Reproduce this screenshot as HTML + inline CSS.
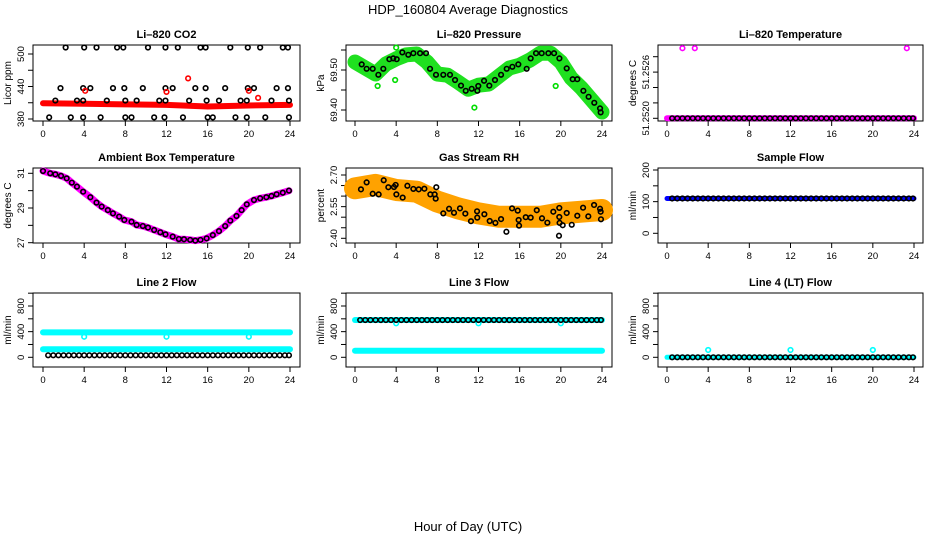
<!DOCTYPE html>
<html><head><meta charset="utf-8"><style>
html,body{margin:0;padding:0;background:#fff;}
svg{display:block;font-family:"Liberation Sans",sans-serif;}
</style></head><body>
<svg id="chart" width="936" height="540" viewBox="0 0 936 540" xmlns="http://www.w3.org/2000/svg">
<text x="468" y="14" text-anchor="middle" font-size="13">HDP_160804  Average Diagnostics</text>
<text x="468" y="531" text-anchor="middle" font-size="13">Hour of Day (UTC)</text>
</svg>
<script>
// ---------- data ----------
const xTicks = [0,4,8,12,16,20,24];
const halfHours = [0.5,1,1.5,2,2.5,3,3.5,4,4.5,5,5.5,6,6.5,7,7.5,8,8.5,9,9.5,10,10.5,11,11.5,12,12.5,13,13.5,14,14.5,15,15.5,16,16.5,17,17.5,18,18.5,19,19.5,20,20.5,21,21.5,22,22.5,23,23.5,23.9];

// CO2
const co2BandH = [0,4,8,12,16,20,24];
const co2BandV = [409,408,407,406,403,405,406];
const co2TopH = [2.2,4.0,5.2,7.2,7.8,10.2,11.9,13.1,15.3,15.8,18.2,19.9,21.1,23.3,23.8];
const co2TopV = 512;
const co2MidH = [1.7,3.9,4.6,6.8,7.9,9.7,11.9,12.6,14.8,15.8,17.7,19.9,20.5,22.7,23.8];
const co2MidV = 437;
const co2LowH = [1.2,3.3,3.9,6.2,8.0,9.1,11.3,11.9,14.2,15.9,17.1,19.2,19.8,22.2,23.9];
const co2LowV = 414;
const co2BotH = [0.6,2.7,3.9,5.6,8.0,8.6,10.8,11.8,13.6,16.0,16.5,18.7,19.8,21.6,23.9];
const co2BotV = 383;
const co2RedH = [4.1,12.0,14.1,20.0,20.9];
const co2RedV = [432,430,455,432,419];

// Pressure
const presBandH = [0,1,2,3,4,5,6,7,8,9,10,11,12,13,14,15,16,17,18,19,20,21,22,23,24];
const presBandV = [69.52,69.505,69.49,69.515,69.528,69.538,69.54,69.52,69.49,69.487,69.47,69.452,69.462,69.465,69.485,69.505,69.512,69.525,69.542,69.542,69.52,69.48,69.455,69.425,69.395];
const presAvgH = [0.65,1.13,1.72,2.27,2.75,3.34,3.72,4.05,4.6,5.18,5.67,6.32,6.9,7.29,7.87,8.58,9.23,9.72,10.3,10.76,11.34,11.89,11.98,12.54,13.05,13.6,14.19,14.74,15.29,15.87,16.68,17.07,17.59,18.14,18.79,19.34,19.86,20.57,21.15,21.6,22.19,22.7,23.25,23.81,23.87];
const presAvgV = [69.514,69.503,69.503,69.488,69.503,69.527,69.529,69.527,69.544,69.538,69.542,69.542,69.542,69.503,69.488,69.488,69.488,69.475,69.461,69.448,69.453,69.448,69.46,69.473,69.461,69.475,69.488,69.503,69.508,69.514,69.503,69.529,69.542,69.542,69.542,69.542,69.529,69.504,69.477,69.477,69.448,69.433,69.418,69.404,69.394];
const presOutH = [3.9,4.0,11.6,19.5,2.2];
const presOutV = [69.475,69.556,69.406,69.46,69.46];

// Li-820 temperature
const tempBaseV = 51.2520;
const tempOutH = [1.5,2.7,23.3];
const tempOutV = [51.25291,51.25291,51.25291];

// Ambient
const ambH = [0,0.7,1.2,1.75,2.3,2.8,3.3,3.9,4.6,5.2,5.7,6.3,6.8,7.4,7.9,8.6,9.1,9.7,10.2,10.8,11.4,11.9,12.6,13.2,13.7,14.3,14.8,15.3,15.9,16.5,17.1,17.7,18.2,18.8,19.3,19.8,20.5,21.1,21.7,22.2,22.7,23.3,23.9];
const ambV = [31.13,31.0,30.94,30.85,30.71,30.46,30.23,29.94,29.62,29.31,29.08,28.88,28.69,28.5,28.31,28.21,28.02,27.96,27.87,27.73,27.6,27.48,27.35,27.21,27.2,27.16,27.12,27.16,27.25,27.44,27.67,27.96,28.27,28.54,28.88,29.21,29.46,29.56,29.62,29.69,29.79,29.88,30.0];

// RH
const rhBandH = [0,2,4,6,8,10,12,14,16,18,20,22,24];
const rhBandV = [2.637,2.653,2.629,2.621,2.574,2.542,2.518,2.502,2.502,2.502,2.518,2.526,2.534];
const rhAvgH = [0.58,1.13,1.72,2.3,2.79,3.24,3.79,3.95,4.02,4.63,5.09,5.67,6.19,6.74,7.32,7.74,7.84,7.9,8.58,9.14,9.62,10.2,10.72,11.27,11.86,11.88,12.57,13.09,13.64,14.19,14.71,15.26,15.81,15.9,15.94,16.59,17.07,17.66,18.17,18.69,19.27,19.85,19.85,19.88,19.82,20.18,20.57,21.06,21.6,22.16,22.67,23.23,23.81,23.87,23.9];
const rhAvgV = [2.632,2.665,2.611,2.608,2.675,2.642,2.643,2.653,2.608,2.593,2.649,2.634,2.632,2.635,2.608,2.608,2.588,2.642,2.518,2.540,2.521,2.542,2.517,2.481,2.528,2.498,2.514,2.482,2.473,2.491,2.431,2.542,2.531,2.487,2.460,2.50,2.498,2.533,2.495,2.474,2.526,2.544,2.501,2.473,2.412,2.462,2.520,2.464,2.507,2.545,2.504,2.558,2.540,2.526,2.490];

// Flows
const sampleV = 110;
const line2HighV = 389, line2LowV = 124, line2BlackV = 31;
const line2DipH = [4,12,20], line2DipV = [321,321,321];
const line3HighV = 581, line3LowV = 103;
const line3DipH = [4,12,20], line3DipV = [530,530,530];
const line4V = 0;
const line4OutH = [4,12,20], line4OutV = [114,114,114];

// ---------- drawing ----------
const NS = "http://www.w3.org/2000/svg";
const svg = document.getElementById('chart');
function mk(tag, attrs, parent){
  const e = document.createElementNS(NS, tag);
  for (const k in attrs) e.setAttribute(k, attrs[k]);
  (parent||svg).appendChild(e);
  return e;
}
function makePanel(o){
  const g = mk('g', {});
  
  
  const sx = h => o.x0 + (o.x24 - o.x0) * h / 24;
  const sy = v => o.p1 + (v - o.v1) * (o.p2 - o.p1) / (o.v2 - o.v1);
  const box = mk('rect', {x:o.l, y:o.t, width:o.r-o.l, height:o.b-o.t, fill:'none', stroke:'#000', 'stroke-width':1}, g);
  
  
  const ttl = mk('text', {x:(o.l+o.r)/2, y:o.t-7, 'text-anchor':'middle', 'font-size':11, 'font-weight':'bold'}, g);
  ttl.textContent = o.title;
  
  
  xTicks.forEach(h => {
    const tk = mk('line', {x1:sx(h), x2:sx(h), y1:o.b, y2:o.b+5, stroke:'#000'}, g);
    
    
    const tl = mk('text', {x:sx(h), y:o.b+16, 'text-anchor':'middle', 'font-size':9.5}, g);
    tl.textContent = h;
    
    
  });
  o.yticks.forEach(v => {
    const tk = mk('line', {x1:o.l-5, x2:o.l, y1:sy(v), y2:sy(v), stroke:'#000'}, g);
    
    
  });
  o.ylabels.forEach((v,i) => {
    const y = sy(v), x = o.l-9;
    const tl = mk('text', {x:x, y:y, 'text-anchor':'middle', 'font-size':9.5, transform:`rotate(-90 ${x} ${y})`}, g);
    tl.textContent = o.ylabelText[i];
    
    
  });
  const yl = mk('text', {x:o.l-22, y:(o.t+o.b)/2, 'text-anchor':'middle', 'font-size':10, transform:`rotate(-90 ${o.l-22} ${(o.t+o.b)/2})`}, g);
  yl.textContent = o.ylab;
  
  
  const clip = mk('g', {}, g);
  return {g:clip, sx, sy};
}
function band(P, hs, vs, color, w, name){
  const pts = hs.map((h,i) => P.sx(h).toFixed(1) + ',' + P.sy(Array.isArray(vs)?vs[i]:vs).toFixed(1)).join(' ');
  const pl = mk('polyline', {points:pts, fill:'none', stroke:color, 'stroke-width':w, 'stroke-linejoin':'round', 'stroke-linecap':'round'}, P.g);
  
  
}
function dots(P, hs, vs, color, name, r){
  hs.forEach((h,i) => {
    const v = Array.isArray(vs) ? vs[i] : vs;
    const c = mk('circle', {cx:P.sx(h), cy:P.sy(v), r:r||2.3, fill:'none', stroke:color, 'stroke-width':1.6}, P.g);
    
    
  });
}
const flat = [0,24];
const cols = [{l:33,r:300,x0:43,x24:290},{l:346,r:612,x0:355,x24:602},{l:658,r:923,x0:667,x24:914}];
const rows = [{t:45,b:121},{t:168,b:243},{t:293,b:367}];
function geo(r,c){ return Object.assign({}, cols[c], rows[r]); }

let P = makePanel(Object.assign(geo(0,0), {name:'co2', title:'Li\u2013820 CO2', ylab:'Licor ppm', v1:500, p1:54, v2:380, p2:119,
  yticks:[380,410,440,470,500], ylabels:[380,440,500], ylabelText:['380','440','500']}));
band(P, co2BandH, co2BandV, '#ff0000', 6, 'co2-band');
dots(P, co2TopH, co2TopV, '#000', 'co2-avg-point');
dots(P, co2MidH, co2MidV, '#000', 'co2-avg-point');
dots(P, co2LowH, co2LowV, '#000', 'co2-avg-point');
dots(P, co2BotH, co2BotV, '#000', 'co2-avg-point');
dots(P, co2RedH, co2RedV, '#ff0000', 'co2-outlier');

P = makePanel(Object.assign(geo(0,1), {name:'pressure', title:'Li\u2013820 Pressure', ylab:'kPa', v1:69.50, p1:70, v2:69.40, p2:110,
  yticks:[69.40,69.45,69.50,69.55], ylabels:[69.40,69.50], ylabelText:['69.40','69.50']}));
band(P, presBandH, presBandV, '#1fe01f', 15, 'pressure-band');
dots(P, presOutH, presOutV, '#00dd00', 'pressure-outlier');
dots(P, presAvgH, presAvgV, '#000', 'pressure-avg-point');

P = makePanel(Object.assign(geo(0,2), {name:'li820-temp', title:'Li\u2013820 Temperature', ylab:'degrees C', v1:51.2520, p1:118.3, v2:51.2528, p2:56.7,
  yticks:[51.2520,51.2522,51.2524,51.2526,51.2528], ylabels:[51.2520,51.2526], ylabelText:['51.2520','51.2526']}));
band(P, flat, tempBaseV, '#ff00ff', 6, 'li820-temp-band');
dots(P, halfHours, tempBaseV, '#000', 'li820-temp-avg-point');
dots(P, tempOutH, tempOutV, '#ff00ff', 'li820-temp-outlier');

P = makePanel(Object.assign(geo(1,0), {name:'ambient', title:'Ambient Box Temperature', ylab:'degrees C', v1:31, p1:173.3, v2:27, p2:242.7,
  yticks:[27,28,29,30,31], ylabels:[27,29,31], ylabelText:['27','29','31']}));
band(P, ambH, ambV, '#ff00ff', 7, 'ambient-band');
dots(P, ambH, ambV, '#000', 'ambient-avg-point');

P = makePanel(Object.assign(geo(1,1), {name:'rh', title:'Gas Stream RH', ylab:'percent', v1:2.70, p1:175, v2:2.40, p2:238.3,
  yticks:[2.40,2.45,2.50,2.55,2.60,2.65,2.70], ylabels:[2.40,2.55,2.70], ylabelText:['2.40','2.55','2.70']}));
band(P, rhBandH, rhBandV, '#ffa200', 22, 'rh-band');
dots(P, rhAvgH, rhAvgV, '#000', 'rh-avg-point');

P = makePanel(Object.assign(geo(1,2), {name:'sample-flow', title:'Sample Flow', ylab:'ml/min', v1:200, p1:170, v2:0, p2:233.3,
  yticks:[0,50,100,150,200], ylabels:[0,100,200], ylabelText:['0','100','200']}));
band(P, flat, sampleV, '#0000ff', 5, 'sample-flow-band');
dots(P, halfHours, sampleV, '#000', 'sample-flow-avg-point');

const flowTicks = [0,200,400,600,800,1000];
P = makePanel(Object.assign(geo(2,0), {name:'line2', title:'Line 2 Flow', ylab:'ml/min', v1:800, p1:306, v2:0, p2:357.3,
  yticks:flowTicks, ylabels:[0,400,800], ylabelText:['0','400','800']}));
band(P, flat, line2HighV, '#00ffff', 6, 'line2-high-band');
band(P, flat, line2LowV, '#00ffff', 6, 'line2-low-band');
dots(P, line2DipH, line2DipV, '#00ffff', 'line2-dip');
dots(P, halfHours, line2BlackV, '#000', 'line2-avg-point');

P = makePanel(Object.assign(geo(2,1), {name:'line3', title:'Line 3 Flow', ylab:'ml/min', v1:800, p1:306, v2:0, p2:357.3,
  yticks:flowTicks, ylabels:[0,400,800], ylabelText:['0','400','800']}));
band(P, flat, line3HighV, '#00ffff', 6, 'line3-high-band');
band(P, flat, line3LowV, '#00ffff', 6, 'line3-low-band');
dots(P, line3DipH, line3DipV, '#00ffff', 'line3-dip');
dots(P, halfHours, line3HighV, '#000', 'line3-avg-point');

P = makePanel(Object.assign(geo(2,2), {name:'line4', title:'Line 4 (LT) Flow', ylab:'ml/min', v1:800, p1:306, v2:0, p2:357.3,
  yticks:flowTicks, ylabels:[0,400,800], ylabelText:['0','400','800']}));
band(P, flat, line4V, '#00ffff', 5, 'line4-band');
dots(P, halfHours, line4V, '#000', 'line4-avg-point');
dots(P, line4OutH, line4OutV, '#00ffff', 'line4-outlier');
</script>
</body></html>
